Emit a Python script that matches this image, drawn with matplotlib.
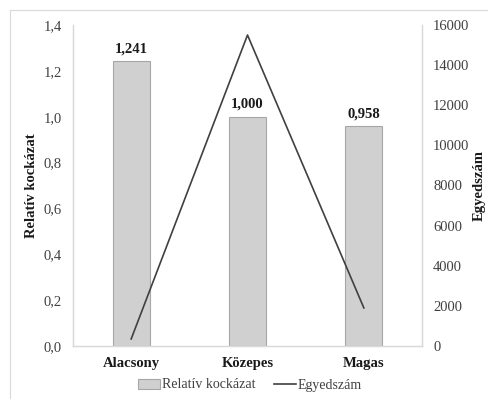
import matplotlib
matplotlib.use("Agg")
import matplotlib.pyplot as plt
from matplotlib.ticker import FuncFormatter, MultipleLocator
from matplotlib.patches import Rectangle
from matplotlib.lines import Line2D
from matplotlib.patches import Patch

categories = ["Alacsony", "Közepes", "Magas"]
relative_risk = [1.241, 1.000, 0.958]
counts = [350, 15500, 1900]

plt.rcParams["font.family"] = ["Liberation Serif", "DejaVu Serif"]
FS = 10.5

fig = plt.figure(figsize=(4.89, 3.99), dpi=100)
W, H = 489, 399
ax = fig.add_axes([73 / W, 1 - 346 / H, (422 - 73) / W, (346 - 25) / H])
ax2 = ax.twinx()

# outer frame of the chart area
fig.patches.append(Rectangle((10 / W, -0.05), 1.2, 1 - 10 / H + 0.05,
                             transform=fig.transFigure, fill=False,
                             edgecolor="#d9d9d9", linewidth=0.8))

x = range(len(categories))
ax.bar(x, relative_risk, width=0.32, color="#d0d0d0",
       edgecolor="#a6a6a6", linewidth=0.8, zorder=2)
for xi, v in zip(x, relative_risk):
    ax.text(xi, v + 0.025, f"{v:.3f}".replace(".", ","), ha="center",
            va="bottom", fontsize=FS, fontweight="bold", color="#1a1a1a")

ax2.plot(list(x), counts, color="#404040", linewidth=1.2, zorder=3)

ax.set_xlim(-0.5, 2.5)
ax.set_ylim(0, 1.4)
ax.yaxis.set_major_locator(MultipleLocator(0.2))
ax.yaxis.set_major_formatter(FuncFormatter(lambda v, p: f"{v:.1f}".replace(".", ",")))
ax2.set_ylim(0, 16000)
ax2.yaxis.set_major_locator(MultipleLocator(2000))

ax.set_xticks(list(x))
ax.set_xticklabels(categories, fontweight="bold", fontsize=FS, color="#1a1a1a")

for a in (ax, ax2):
    a.spines["top"].set_visible(False)
    for s in ("left", "right", "bottom"):
        a.spines[s].set_color("#d9d9d9")
        a.spines[s].set_linewidth(0.9)
    a.tick_params(length=0, labelsize=FS, colors="#404040")
ax.tick_params(axis="y", pad=8)
ax2.tick_params(axis="y", pad=8)
ax.tick_params(axis="x", pad=8, colors="#1a1a1a")

ax.set_ylabel("Relatív kockázat", fontweight="bold", fontsize=FS, color="#1a1a1a", labelpad=4)
ax2.set_ylabel("Egyedszám", fontweight="bold", fontsize=FS, color="#1a1a1a",
               rotation=90, labelpad=2)

handles = [Patch(facecolor="#d0d0d0", edgecolor="#a6a6a6", linewidth=0.8),
           Line2D([0], [0], color="#404040", linewidth=1.2)]
fig.legend(handles, ["Relatív kockázat", "Egyedszám"], loc="center",
           bbox_to_anchor=(250 / W, 1 - 385 / H), ncol=2, frameon=False,
           fontsize=10, handlelength=1.6, handleheight=0.7, handletextpad=0.15,
           columnspacing=1.3, labelcolor="#404040")

fig.savefig("out.png", dpi=100)
